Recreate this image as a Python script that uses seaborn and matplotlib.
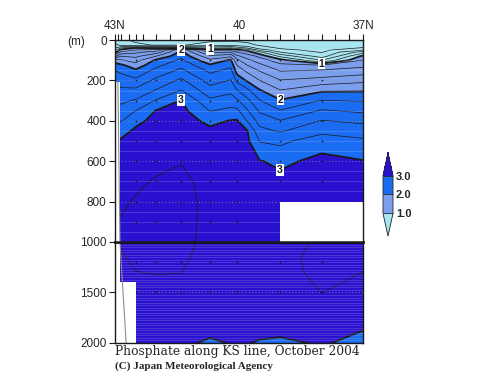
import numpy as np
import matplotlib
matplotlib.use('Agg')
import matplotlib.pyplot as plt
from matplotlib.colors import ListedColormap, BoundaryNorm
import seaborn as sns

# station latitudes (deg N) and standard depths (m)
lats = [43.0, 42.85, 42.5, 42.0, 41.4, 40.7, 40.2, 40.05, 39.8, 39.5, 39.0, 38.0, 37.0]
depths = [0, 25, 40, 50, 60, 80, 100, 125, 150, 200, 250, 300, 350, 400, 450, 500,
          600, 700, 800, 900, 1000, 1150, 1300, 1500, 1700, 1900, 2000]

# phosphate (umol/kg) profiles, one per station
po4_4300 = [0.3, 0.45, 0.6, 0.75, 0.9, 1.35, 1.9, 2.08, 2.2, 2.38, 2.5, 2.6, 2.7, 2.8, 2.9, 2.98,
            3.08, 3.14, 3.17, 3.19, 3.19, 3.18, 3.15, 3.12, 3.08, 3.04, 3.02]
po4_4285 = [0.25, 0.35, 0.85, 1.1, 1.25, 1.6, 1.82, 2.04, 2.15, 2.3, 2.44, 2.56, 2.67, 2.79, 2.92, 3.03,
            3.1, 3.15, 3.18, 3.21, 3.215, 3.19, 3.16, 3.12, 3.08, 3.04, 3.02]
po4_4250 = [0.15, 0.25, 1.02, 1.2, 1.35, 1.55, 1.72, 1.88, 2.03, 2.25, 2.45, 2.62, 2.8, 2.94, 3.04, 3.08,
            3.13, 3.18, 3.21, 3.23, 3.24, 3.22, 3.198, 3.15, 3.1, 3.05, 3.03]
po4_4200 = [0.15, 0.18, 0.98, 1.3, 1.5, 1.8, 2.04, 2.15, 2.26, 2.45, 2.62, 2.82, 3.01, 3.07, 3.1, 3.13,
            3.17, 3.21, 3.24, 3.25, 3.25, 3.23, 3.205, 3.16, 3.11, 3.06, 3.04]
po4_4140 = [0.15, 0.18, 0.95, 2.01, 2.06, 2.15, 2.24, 2.34, 2.44, 2.64, 2.81, 3.01, 3.06, 3.09, 3.12, 3.15,
            3.19, 3.25, 3.26, 3.26, 3.25, 3.23, 3.202, 3.16, 3.11, 3.07, 3.05]
po4_4070 = [0.15, 0.3, 0.8, 1.15, 1.35, 1.65, 1.85, 2.03, 2.15, 2.32, 2.48, 2.64, 2.79, 2.95, 3.04, 3.07,
            3.1, 3.13, 3.15, 3.15, 3.15, 3.14, 3.12, 3.1, 3.07, 3.04, 2.96]
po4_4020 = [0.15, 0.35, 0.85, 1.15, 1.4, 1.75, 2.03, 2.15, 2.25, 2.41, 2.55, 2.7, 2.85, 3.01, 3.04, 3.06,
            3.09, 3.11, 3.13, 3.14, 3.14, 3.13, 3.12, 3.1, 3.07, 3.03, 3.01]
po4_4005 = [0.15, 0.3, 0.75, 1.05, 1.2, 1.45, 1.65, 1.8, 1.9, 2.15, 2.42, 2.64, 2.85, 3.02, 3.05, 3.07,
            3.09, 3.11, 3.12, 3.13, 3.13, 3.12, 3.11, 3.09, 3.06, 3.03, 3.02]
po4_3980 = [0.15, 0.25, 0.6, 0.95, 1.1, 1.3, 1.45, 1.6, 1.75, 1.97, 2.25, 2.45, 2.62, 2.79, 3.01, 3.04,
            3.07, 3.09, 3.11, 3.12, 3.12, 3.12, 3.11, 3.09, 3.06, 3.03, 3.005]
po4_3950 = [0.15, 0.18, 0.3, 0.55, 0.85, 1.15, 1.3, 1.45, 1.58, 1.8, 2.02, 2.21, 2.37, 2.52, 2.66, 2.79,
            3.01, 3.05, 3.08, 3.1, 3.11, 3.12, 3.11, 3.09, 3.05, 3.02, 2.99]
po4_3900 = [0.15, 0.15, 0.18, 0.25, 0.4, 0.75, 1.08, 1.25, 1.38, 1.61, 1.81, 2.02, 2.21, 2.41, 2.58, 2.75,
            2.96, 3.05, 3.08, 3.12, 3.15, 3.16, 3.16, 3.15, 3.1, 3.03, 2.96]
po4_3800 = [0.15, 0.15, 0.15, 0.15, 0.18, 0.3, 0.6, 1.21, 1.41, 1.68, 1.97, 2.21, 2.42, 2.61, 2.74, 2.92,
            3.05, 3.1, 3.15, 3.19, 3.22, 3.24, 3.23, 3.201, 3.13, 3.06, 3.02]
po4_3700 = [0.15, 0.15, 0.21, 0.4, 0.7, 1.05, 1.21, 1.35, 1.48, 1.75, 1.98, 2.18, 2.36, 2.55, 2.72, 2.83,
            3.01, 3.08, 3.13, 3.17, 3.21, 3.215, 3.199, 3.16, 3.08, 2.99, 2.94]

# bottom topography / missing data
bottom_lat = [43.0, 42.88, 42.5, 37.0]
bottom_depth = [210, 1400, 2000, 2000]
slope_lat = [42.93, 42.88, 42.73]
slope_depth = [210, 1000, 2000]
gap_lat = [39.0, 37.0]
gap_top, gap_bottom = 800, 1000

# sampling points
dot_lats = [42.5, 42.0, 41.4, 40.7, 40.05, 39.0, 38.0]
dot_depths = [100, 200, 300, 400, 500, 600, 700, 800, 900, 1200, 1500]

filled_levels = [1.0, 2.0, 3.0]
thin_levels = [0.2, 0.4, 0.6, 0.8, 1.2, 1.4, 1.6, 1.8, 2.2, 2.4, 2.6, 2.8, 3.2]
colors = ['#a9e4f1', '#7b9fec', '#1a6cf2', '#2a10cf']

sns.set_theme(style='white')
plt.rcParams['font.family'] = ['Liberation Sans', 'DejaVu Sans']

po4 = np.array([po4_4300, po4_4285, po4_4250, po4_4200, po4_4140, po4_4070, po4_4020,
                po4_4005, po4_3980, po4_3950, po4_3900, po4_3800, po4_3700]).T
LAT, DEP = np.meshgrid(lats, depths)

cmap = ListedColormap(colors)
norm = BoundaryNorm(filled_levels, cmap.N, extend='both')

fig = plt.figure(figsize=(5, 3.87), dpi=100)
ax_top = fig.add_axes([0.23, 0.3747, 0.496, 0.5219])
ax_bot = fig.add_axes([0.23, 0.1137, 0.496, 0.261])
ax_bot.set_zorder(0)
ax_top.set_zorder(1)

dots_lat, dots_dep = np.meshgrid(dot_lats, dot_depths)

thick = {}
for ax, ylim in ((ax_top, (1000, 0)), (ax_bot, (2000, 1000))):
    cf = ax.contourf(LAT, DEP, po4, levels=filled_levels, cmap=cmap, norm=norm, extend='both')
    ax.contour(LAT, DEP, po4, levels=thin_levels, colors='k', linewidths=0.5)
    for lev in filled_levels:
        cs = ax.contour(LAT, DEP, po4, levels=[lev], colors='k', linewidths=1.3)
        if ax is ax_top:
            thick[lev] = cs
    sns.scatterplot(x=dots_lat.ravel(), y=dots_dep.ravel(), ax=ax, color='k', s=1.5,
                    linewidth=0, legend=False, zorder=3)
    ax.fill_between(bottom_lat, bottom_depth, 2000, step='post', color='white', lw=0, zorder=4)
    ax.fill_between(gap_lat, gap_top, gap_bottom, color='white', lw=0, zorder=4)
    ax.plot(slope_lat, slope_depth, color='0.55', lw=0.8, zorder=5)
    ax.set_xlim(43, 37)
    ax.set_ylim(*ylim)
    ax.set_axisbelow(False)
    ax.yaxis.grid(True, which='major', ls=(0, (1, 3)), color='0.6', lw=0.6)
    ax.yaxis.grid(True, which='minor', ls='-', color='white', alpha=0.18, lw=0.6)
    for sp in ax.spines.values():
        sp.set_color('k')
        sp.set_linewidth(1.0)
        sp.set_zorder(6)
    ax.tick_params(axis='y', which='major', left=True, direction='out', length=4, width=0.8,
                   color='k', labelsize=8.5, pad=2)
    ax.tick_params(axis='y', which='minor', left=False, length=0)

ax_top.set_yticks([0, 200, 400, 600, 800, 1000])
ax_top.set_yticks(np.arange(0, 1000, 50), minor=True)
ax_bot.set_yticks([1500, 2000])
ax_bot.set_yticks(np.arange(1000, 2000, 25), minor=True)
ax_top.spines['bottom'].set_linewidth(1.8)
ax_bot.spines['top'].set_linewidth(1.8)

ax_top.xaxis.tick_top()
ax_top.set_xticks([43, 40, 37])
ax_top.set_xticklabels(['43N', '40', '37N'])
ax_top.set_xticks(list(np.arange(37, 43.01, 1 / 3)) + [42.93, 42.85, 42.5], minor=True)
ax_top.tick_params(axis='x', which='both', top=True, bottom=False, direction='out', length=4,
                   width=0.8, color='k', labelsize=8.5, pad=2)
ax_bot.tick_params(axis='x', which='both', bottom=False, top=False, labelbottom=False)

label_pos = {1.0: [(40.7, 45), (38.0, 115)],
             2.0: [(41.4, 50), (39.0, 297)],
             3.0: [(41.4, 297), (39.0, 640)]}
for lev, pos in label_pos.items():
    texts = ax_top.clabel(thick[lev], manual=pos, inline=False, fmt='%d', fontsize=7.5)
    for t in texts:
        t.set_rotation(0)
        t.set_fontweight('bold')
        t.set_zorder(7)
        t.set_bbox(dict(boxstyle='square,pad=0.08', fc='white', ec='none'))

fig.text(76 / 500, 1 - 42 / 387, '(m)', ha='center', va='center', fontsize=8.5)

cax = fig.add_axes([0.766, 0.3902, 0.02, 0.2145])
cb = fig.colorbar(cf, cax=cax, ticks=filled_levels, extendfrac=0.6, drawedges=True)
cb.outline.set_linewidth(0.6)
cb.dividers.set_linewidth(0.6)
cb.ax.tick_params(length=0, pad=2)
cb.ax.set_yticklabels(['1.0', '2.0', '3.0'], fontsize=8, fontweight='bold')

fig.text(0.23, 1 - 352 / 387, 'Phosphate along KS line, October 2004', ha='left', va='center',
         fontsize=8.85, family='DejaVu Serif')
fig.text(0.23, 1 - 366 / 387, '(C) Japan Meteorological Agency', ha='left', va='center',
         fontsize=8.0, family='Liberation Serif', fontweight='bold')

fig.savefig('out.png', dpi=100)
